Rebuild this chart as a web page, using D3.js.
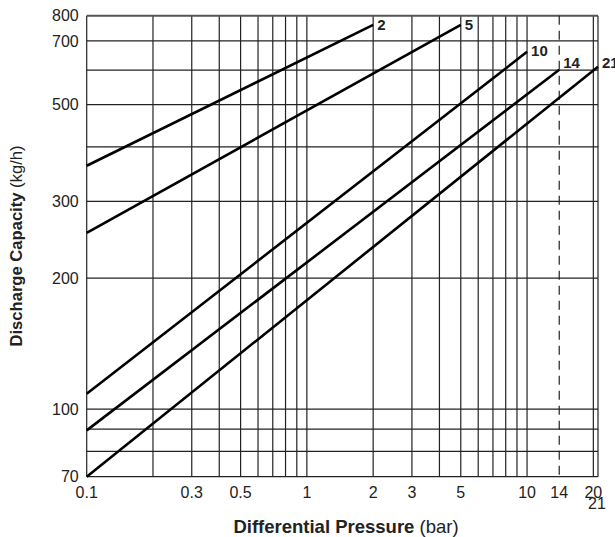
<!DOCTYPE html>
<html>
<head>
<meta charset="utf-8">
<script src="https://cdn.jsdelivr.net/npm/d3@7"></script>
<style>
  html, body { margin: 0; padding: 0; background: #fff; overflow: hidden; }
  svg { display: block; }
  text { font-family: "Liberation Sans", Arial, Helvetica, sans-serif; fill: #222; }
</style>
</head>
<body>
<svg id="chart" width="615" height="537"></svg>
<script>
// Discharge capacity vs differential pressure, log-log

const xTickValues = [0.1, 0.3, 0.5, 1, 2, 3, 5, 10, 14, 20];
const xGridValues = [0.1, 0.2, 0.3, 0.4, 0.5, 0.6, 0.7, 0.8, 0.9,
                     1, 2, 3, 4, 5, 6, 7, 8, 9, 10, 20, 21];
const yTickValues = [70, 100, 200, 300, 500, 700, 800];
const yGridValues = [70, 80, 90, 100, 200, 300, 400, 500, 600, 700, 800];

const seriesNames = ["2", "5", "10", "14", "21"];
const seriesStart = [[0.1, 362], [0.1, 254], [0.1, 108.5], [0.1, 89.4], [0.1, 70]];
const seriesEnd   = [[2, 762],   [5, 762],   [10, 661],    [14, 601],   [21, 611]];

const width = 615, height = 537;
const margin = { top: 15.7, right: 17, bottom: 60.3, left: 86.7 };
const innerWidth  = width  - margin.left - margin.right;
const innerHeight = height - margin.top  - margin.bottom;

const svg = d3.select("#chart");
const g = svg.append("g")
  .attr("transform", `translate(${margin.left},${margin.top})`);

const x = d3.scaleLog().domain([0.1, 21]).range([0, innerWidth]);
const y = d3.scaleLog().domain([70, 800]).range([innerHeight, 0]);

// grid
g.append("g").selectAll("line.v")
  .data(xGridValues)
  .join("line")
  .attr("x1", d => x(d)).attr("x2", d => x(d))
  .attr("y1", 0).attr("y2", innerHeight)
  .attr("stroke", "#222").attr("stroke-width", 1.2);

g.append("g").selectAll("line.h")
  .data(yGridValues)
  .join("line")
  .attr("x1", 0).attr("x2", innerWidth)
  .attr("y1", d => y(d)).attr("y2", d => y(d))
  .attr("stroke", d => d === 800 ? "#555" : "#222")
  .attr("stroke-width", d => d === 800 ? 2 : 1.3);

// dashed 14 bar limit
g.append("line")
  .attr("x1", x(14)).attr("x2", x(14))
  .attr("y1", 0).attr("y2", innerHeight)
  .attr("stroke", "#222").attr("stroke-width", 1.2)
  .attr("stroke-dasharray", "9,6");

// y tick labels
g.append("g").selectAll("text")
  .data(yTickValues)
  .join("text")
  .attr("x", -8)
  .attr("y", d => y(d))
  .attr("dy", "0.35em")
  .attr("text-anchor", "end")
  .attr("font-size", 16)
  .text(d => d);

// x tick labels
g.append("g").selectAll("text")
  .data(xTickValues)
  .join("text")
  .attr("x", d => x(d))
  .attr("y", innerHeight + 15.5)
  .attr("dy", "0.35em")
  .attr("text-anchor", "middle")
  .attr("font-size", 16)
  .text(d => d);

g.append("text")
  .attr("x", x(21) - 1)
  .attr("y", innerHeight + 27)
  .attr("dy", "0.35em")
  .attr("text-anchor", "middle")
  .attr("font-size", 16)
  .text("21");

// series lines
const series = seriesNames.map((name, i) => ({ name, points: [seriesStart[i], seriesEnd[i]] }));
const line = d3.line().x(d => x(d[0])).y(d => y(d[1]));

g.append("g").selectAll("path")
  .data(series)
  .join("path")
  .attr("d", d => line(d.points))
  .attr("fill", "none")
  .attr("stroke", "#000")
  .attr("stroke-width", 2.6);

const labelDy = { "2": 0, "5": 0, "10": -1, "14": -7.5, "21": -4 };
g.append("g").selectAll("text")
  .data(series)
  .join("text")
  .attr("x", d => x(d.points[1][0]) + 4)
  .attr("y", d => y(d.points[1][1]) + labelDy[d.name])
  .attr("dy", "0.35em")
  .attr("font-size", 15)
  .attr("font-weight", "bold")
  .text(d => d.name);

// axis titles
const xTitle = svg.append("text")
  .attr("x", 346)
  .attr("y", 526.7)
  .attr("dy", "0.35em")
  .attr("text-anchor", "middle")
  .attr("font-size", 18.5);
xTitle.append("tspan").attr("font-weight", "bold").text("Differential Pressure");
xTitle.append("tspan").text(" (bar)");

const yTitle = svg.append("text")
  .attr("transform", `translate(16,246) rotate(-90)`)
  .attr("dy", "0.35em")
  .attr("text-anchor", "middle")
  .attr("font-size", 16.6);
yTitle.append("tspan").attr("font-weight", "bold").text("Discharge Capacity");
yTitle.append("tspan").text(" (kg/h)");
</script>
</body>
</html>
